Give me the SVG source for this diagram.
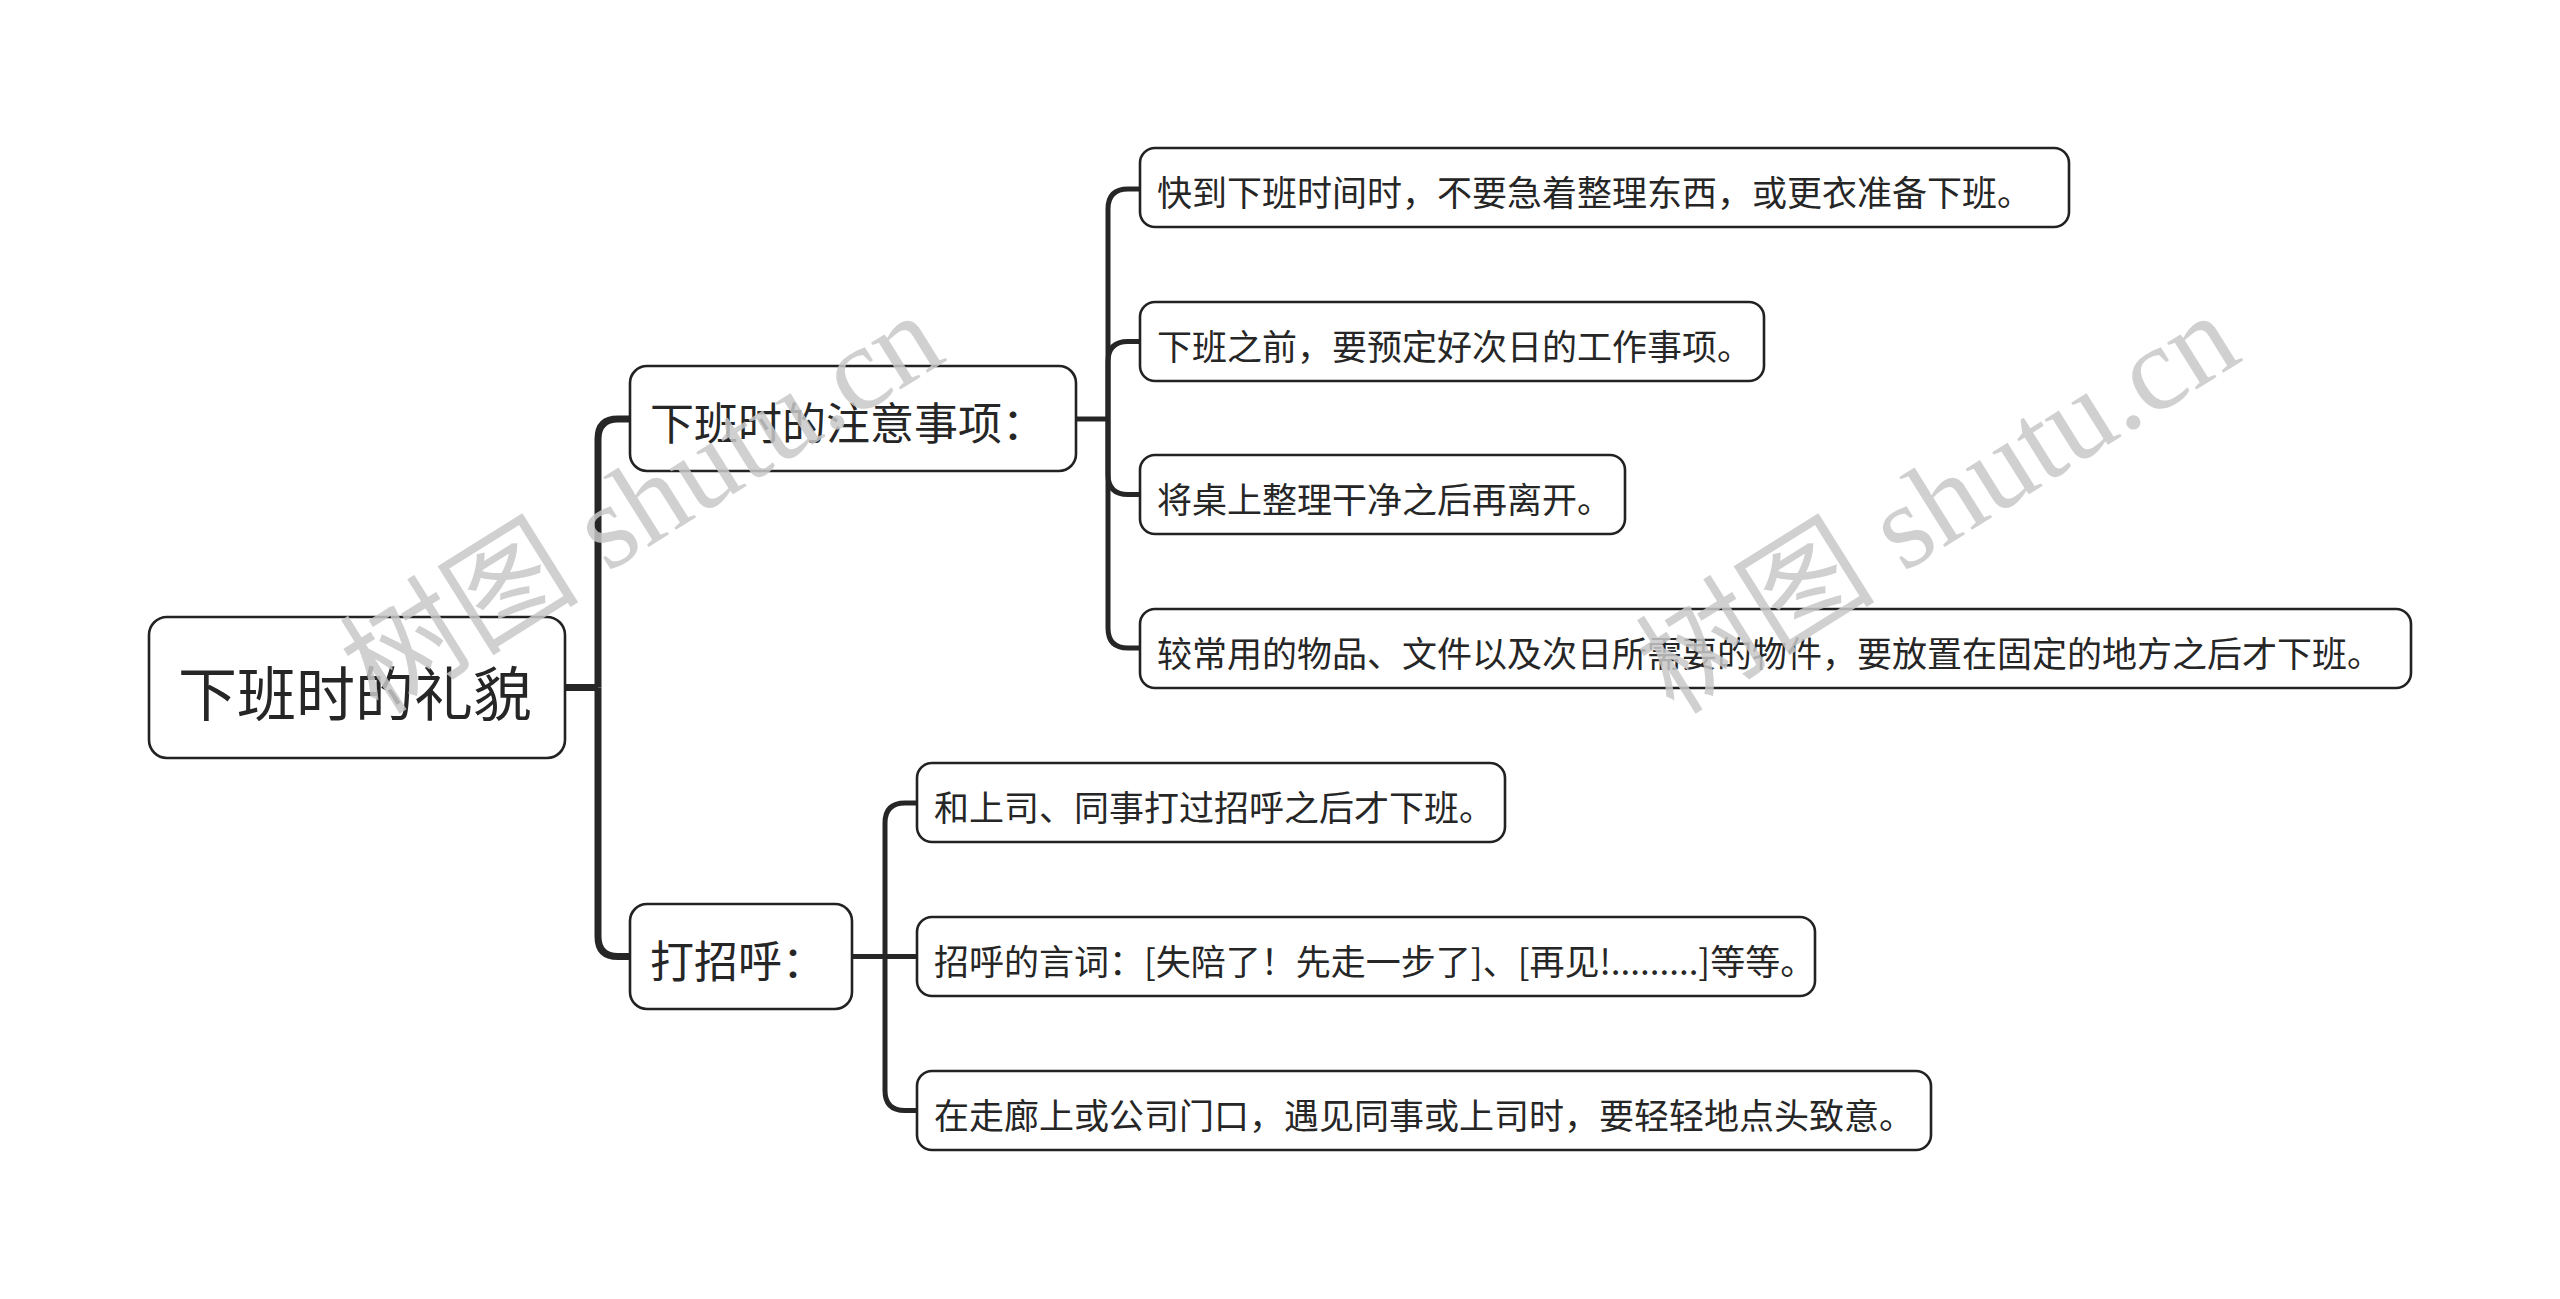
<svg xmlns="http://www.w3.org/2000/svg" width="2560" height="1299" viewBox="0 0 2560 1299">
<style>
.box{fill:#fff;stroke:#222;stroke-width:2.6}
.t{font-family:"Noto Sans CJK SC","Noto Sans",sans-serif;fill:#262626;dominant-baseline:central}
.c0{fill:none;stroke:#262626;stroke-width:7;stroke-linecap:butt}
.c1{fill:none;stroke:#262626;stroke-width:5;stroke-linecap:butt}
.wm{font-family:"Liberation Serif","Noto Sans CJK SC",serif;fill:#c8c8c8;fill-opacity:0.85;font-size:120px}
</style>
<rect width="2560" height="1299" fill="#fff"/>
<g id="connectors">
<path class="c0" d="M565,687.5 H598"/>
<path class="c0" d="M598,687.5 V439 Q598,419 618,419 H631"/>
<path class="c0" d="M598,687.5 V936.5 Q598,956.5 618,956.5 H631"/>
<path class="c1" d="M1076,419 H1108"/>
<path class="c1" d="M1108,419 V209 Q1108,189 1128,189 H1141"/>
<path class="c1" d="M1108,419 V361.5 Q1108,341.5 1128,341.5 H1141"/>
<path class="c1" d="M1108,419 V474.5 Q1108,494.5 1128,494.5 H1141"/>
<path class="c1" d="M1108,419 V628 Q1108,648 1128,648 H1141"/>
<path class="c1" d="M852,956.5 H885"/>
<path class="c1" d="M885,956.5 V823 Q885,803 905,803 H918"/>
<path class="c1" d="M885,956.5 H918"/>
<path class="c1" d="M885,956.5 V1090.5 Q885,1110.5 905,1110.5 H918"/>
</g>
<g id="root"><rect class="box" x="149" y="617" width="416" height="141" rx="18"/><text class="t" x="178" y="690" font-size="59">下班时的礼貌</text></g>
<g id="b1"><rect class="box" x="630" y="366" width="446" height="105" rx="17"/><text class="t" x="650" y="421" font-size="44">下班时的注意事项：</text></g>
<g id="b2"><rect class="box" x="630" y="904" width="222" height="105" rx="17"/><text class="t" x="650" y="959" font-size="44">打招呼：</text></g>
<g id="l1"><rect class="box" x="1140" y="148" width="929" height="79" rx="15"/><text class="t" x="1157" y="190" font-size="35">快到下班时间时，不要急着整理东西，或更衣准备下班。</text></g>
<g id="l2"><rect class="box" x="1140" y="302" width="624" height="79" rx="15"/><text class="t" x="1157" y="344" font-size="35">下班之前，要预定好次日的工作事项。</text></g>
<g id="l3"><rect class="box" x="1140" y="455" width="485" height="79" rx="15"/><text class="t" x="1157" y="497" font-size="35">将桌上整理干净之后再离开。</text></g>
<g id="l4"><rect class="box" x="1140" y="609" width="1271" height="79" rx="15"/><text class="t" x="1157" y="651" font-size="35">较常用的物品、文件以及次日所需要的物件，要放置在固定的地方之后才下班。</text></g>
<g id="m1"><rect class="box" x="917" y="763" width="588" height="79" rx="15"/><text class="t" x="934" y="805" font-size="35">和上司、同事打过招呼之后才下班。</text></g>
<g id="m2"><rect class="box" x="917" y="917" width="898" height="79" rx="15"/><text class="t" x="934" y="959" font-size="35">招呼的言词：[失陪了！先走一步了]、[再见!.........]等等。</text></g>
<g id="m3"><rect class="box" x="917" y="1071" width="1014" height="79" rx="15"/><text class="t" x="934" y="1113" font-size="35">在走廊上或公司门口，遇见同事或上司时，要轻轻地点头致意。</text></g>
<g id="watermarks">
<text class="wm" x="378" y="716" transform="rotate(-32 378 716)">树图 shutu.cn</text>
<text class="wm" x="1674" y="716" transform="rotate(-32 1674 716)">树图 shutu.cn</text>
</g>
</svg>
